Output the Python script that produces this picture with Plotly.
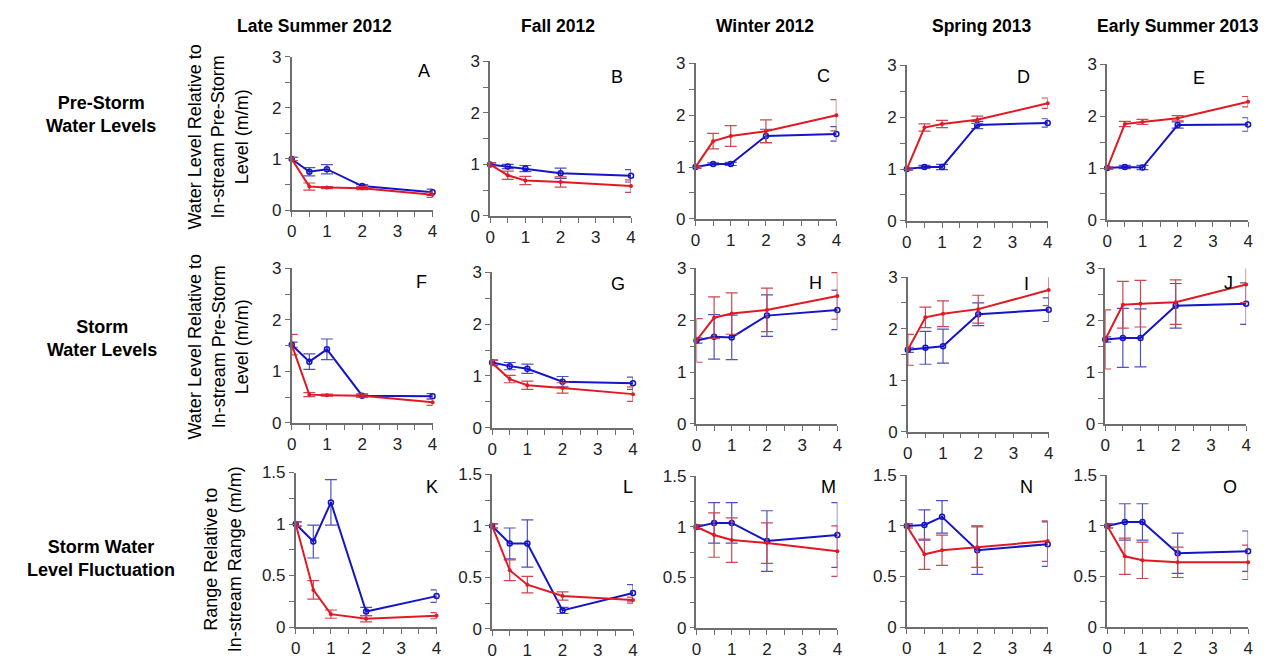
import plotly.graph_objects as go

W, H = 1267, 672

# ---------------- data ----------------
hours = [0, 0.5, 1, 2, 4]
x_tick_vals = [0, 1, 2, 3, 4]
col_titles = ["Late Summer 2012", "Fall 2012", "Winter 2012", "Spring 2013", "Early Summer 2013"]
row_labels = ["Pre-Storm<br>Water Levels", "Storm<br>Water Levels", "Storm Water<br>Level Fluctuation"]
y_titles = ["Water Level Relative to<br>In-stream Pre-Storm<br>Level (m/m)",
            "Water Level Relative to<br>In-stream Pre-Storm<br>Level (m/m)",
            "Range Relative to<br>In-stream Range (m/m)"]
letters = ["A", "B", "C", "D", "E", "F", "G", "H", "I", "J", "K", "L", "M", "N", "O"]

A_blue = [1.0, 0.75, 0.80, 0.47, 0.35]; A_blue_err = [0.03, 0.08, 0.09, 0.03, 0.06]
A_red = [1.0, 0.46, 0.44, 0.43, 0.30];  A_red_err = [0.03, 0.07, 0.02, 0.03, 0.05]
B_blue = [1.0, 0.96, 0.92, 0.83, 0.78]; B_blue_err = [0.03, 0.04, 0.06, 0.10, 0.12]
B_red = [1.0, 0.79, 0.69, 0.66, 0.58];  B_red_err = [0.03, 0.08, 0.08, 0.10, 0.12]
C_blue = [1.0, 1.06, 1.06, 1.60, 1.64]; C_blue_err = [0.02, 0.02, 0.03, 0.13, 0.14]
C_red = [1.0, 1.50, 1.60, 1.69, 2.00];  C_red_err = [0.02, 0.15, 0.20, 0.22, 0.30]
D_blue = [1.0, 1.04, 1.04, 1.85, 1.89]; D_blue_err = [0.02, 0.03, 0.05, 0.07, 0.08]
D_red = [1.0, 1.80, 1.87, 1.95, 2.27];  D_red_err = [0.02, 0.07, 0.07, 0.07, 0.10]
E_blue = [1.0, 1.02, 1.01, 1.83, 1.84]; E_blue_err = [0.02, 0.03, 0.04, 0.06, 0.13]
E_red = [1.0, 1.85, 1.89, 1.96, 2.28];  E_red_err = [0.02, 0.05, 0.05, 0.05, 0.10]

F_blue = [1.52, 1.19, 1.43, 0.53, 0.52]; F_blue_err = [0.05, 0.15, 0.20, 0.03, 0.05]
F_red = [1.52, 0.55, 0.54, 0.53, 0.40];  F_red_err = [0.20, 0.04, 0.02, 0.03, 0.06]
G_blue = [1.26, 1.19, 1.14, 0.89, 0.86]; G_blue_err = [0.05, 0.07, 0.09, 0.10, 0.12]
G_red = [1.25, 0.94, 0.82, 0.77, 0.65];  G_red_err = [0.05, 0.07, 0.08, 0.10, 0.14]
H_blue = [1.61, 1.68, 1.67, 2.09, 2.20]; H_blue_err = [0.05, 0.43, 0.43, 0.40, 0.38]
H_red = [1.61, 2.05, 2.13, 2.20, 2.47];  H_red_err = [0.42, 0.40, 0.40, 0.42, 0.45]
I_blue = [1.59, 1.63, 1.66, 2.28, 2.37]; I_blue_err = [0.05, 0.32, 0.33, 0.22, 0.23]
I_red = [1.59, 2.22, 2.29, 2.38, 2.75];  I_red_err = [0.30, 0.20, 0.25, 0.27, 0.30]
J_blue = [1.63, 1.66, 1.66, 2.28, 2.32]; J_blue_err = [0.05, 0.57, 0.56, 0.43, 0.40]
J_red = [1.63, 2.30, 2.32, 2.35, 2.69];  J_red_err = [0.57, 0.45, 0.45, 0.43, 0.35]

K_blue = [1.0, 0.83, 1.21, 0.15, 0.30]; K_blue_err = [0.02, 0.16, 0.22, 0.04, 0.06]
K_red = [1.0, 0.36, 0.125, 0.08, 0.11]; K_red_err = [0.02, 0.09, 0.04, 0.03, 0.03]
L_blue = [1.0, 0.83, 0.83, 0.18, 0.35]; L_blue_err = [0.02, 0.15, 0.23, 0.03, 0.08]
L_red = [1.0, 0.57, 0.43, 0.32, 0.28];  L_red_err = [0.02, 0.10, 0.08, 0.04, 0.03]
M_blue = [1.0, 1.04, 1.04, 0.86, 0.92]; M_blue_err = [0.02, 0.20, 0.20, 0.30, 0.32]
M_red = [1.0, 0.92, 0.87, 0.84, 0.76];  M_red_err = [0.02, 0.22, 0.22, 0.20, 0.25]
N_blue = [1.0, 1.01, 1.09, 0.76, 0.82]; N_blue_err = [0.02, 0.15, 0.16, 0.24, 0.22]
N_red = [1.0, 0.72, 0.76, 0.79, 0.85];  N_red_err = [0.02, 0.15, 0.15, 0.20, 0.20]
O_blue = [1.0, 1.04, 1.04, 0.73, 0.75]; O_blue_err = [0.02, 0.18, 0.18, 0.20, 0.20]
O_red = [1.0, 0.70, 0.66, 0.64, 0.64];  O_red_err = [0.02, 0.18, 0.18, 0.15, 0.17]

blue_means = [A_blue, B_blue, C_blue, D_blue, E_blue, F_blue, G_blue, H_blue, I_blue, J_blue,
              K_blue, L_blue, M_blue, N_blue, O_blue]
blue_errs = [A_blue_err, B_blue_err, C_blue_err, D_blue_err, E_blue_err, F_blue_err, G_blue_err,
             H_blue_err, I_blue_err, J_blue_err, K_blue_err, L_blue_err, M_blue_err, N_blue_err, O_blue_err]
red_means = [A_red, B_red, C_red, D_red, E_red, F_red, G_red, H_red, I_red, J_red,
             K_red, L_red, M_red, N_red, O_red]
red_errs = [A_red_err, B_red_err, C_red_err, D_red_err, E_red_err, F_red_err, G_red_err,
            H_red_err, I_red_err, J_red_err, K_red_err, L_red_err, M_red_err, N_red_err, O_red_err]

y_ranges = [[0, 3], [0, 3], [0, 1.5]]
y_dticks = [1, 1, 0.5]
y_minor = [0.5, 0.5, 0.25]

# ---------------- layout (pixel geometry) ----------------
# (x0, top, bottom) of each plot area in pixels
geom = [
    [(289, 49, 207), (489, 54, 213), (696, 56, 216), (909, 58, 218), (1111, 57, 217)],
    [(289, 267, 426), (491, 271, 431), (697, 267, 427), (910, 276, 435), (1109, 267, 427)],
    [(293, 477, 636), (491, 479, 638), (697, 481, 637), (909, 480, 636), (1111, 480, 636)],
]
PW = 142
letter_pos = [
    [(422, 64), (617, 70), (825, 69), (1027, 70), (1204, 71)],
    [(420, 281), (618, 283), (817, 282), (1030, 283), (1233, 282)],
    [(430, 492), (628, 492), (830, 492), (1030, 492), (1235, 492)],
]
title_x = [312, 557, 766, 984, 1182]

BLUE = "rgb(20,20,200)"
RED = "rgb(225,25,35)"
BLUE_ERR = "rgb(80,80,190)"
RED_ERR = "rgb(205,70,80)"
AXC = "rgb(110,110,110)"
FONT = "Arial, Liberation Sans, sans-serif"
TICKFONT = dict(size=17, color="rgb(35,35,35)")

fig = go.Figure()
layout = dict(width=W, height=H, margin=dict(l=0, r=0, t=0, b=0),
              paper_bgcolor="white", plot_bgcolor="white", showlegend=False,
              font=dict(family=FONT, color="rgb(50,50,50)", size=17))
annotations = []

for r in range(3):
    for c in range(5):
        k = r * 5 + c
        idx = "" if k == 0 else str(k + 1)
        x0, top, bot = geom[r][c]
        xd = [x0 / W, (x0 + PW) / W]
        yd = [1 - bot / H, 1 - top / H]
        layout["xaxis" + idx] = dict(
            domain=xd, range=[0, 4], anchor="y" + idx, showgrid=False, zeroline=False,
            showline=True, linecolor=AXC, linewidth=1.5, ticks="outside", ticklen=5,
            tickcolor=AXC, tickwidth=1.3, tickvals=x_tick_vals, fixedrange=True,
            minor=dict(dtick=0.5, tick0=0, ticks="outside", ticklen=5, tickcolor=AXC, tickwidth=1.3),
            tickfont=TICKFONT)
        layout["yaxis" + idx] = dict(
            domain=yd, range=y_ranges[r], anchor="x" + idx, showgrid=False, zeroline=False,
            showline=True, linecolor=AXC, linewidth=1.5, ticks="outside", ticklen=5,
            tickcolor=AXC, tickwidth=1.3, dtick=y_dticks[r], tick0=0, fixedrange=True,
            minor=dict(dtick=y_minor[r], tick0=0, ticks="outside", ticklen=5, tickcolor=AXC, tickwidth=1.3),
            tickfont=TICKFONT)
        fig.add_trace(go.Scatter(
            x=hours, y=blue_means[k], mode="lines+markers", xaxis="x" + idx, yaxis="y" + idx,
            line=dict(color=BLUE, width=2),
            marker=dict(symbol="circle-open", size=5, color=BLUE, line=dict(width=1.5, color=BLUE)),
            error_y=dict(type="data", array=blue_errs[k], visible=True, color=BLUE_ERR,
                         thickness=1.2, width=6),
            cliponaxis=False))
        fig.add_trace(go.Scatter(
            x=hours, y=red_means[k], mode="lines+markers", xaxis="x" + idx, yaxis="y" + idx,
            line=dict(color=RED, width=2),
            marker=dict(symbol="circle", size=4, color=RED),
            error_y=dict(type="data", array=red_errs[k], visible=True, color=RED_ERR,
                         thickness=1.2, width=6),
            cliponaxis=False))
        lx, ly = letter_pos[r][c]
        annotations.append(dict(text=letters[k], x=lx / W, y=1 - ly / H, xref="paper", yref="paper",
                                showarrow=False, xanchor="center", yanchor="middle",
                                font=dict(size=18, color="black", family=FONT)))

for c in range(5):
    annotations.append(dict(text="<b>" + col_titles[c] + "</b>", x=title_x[c] / W, y=1 - 18 / H,
                            xref="paper", yref="paper", showarrow=False, xanchor="center",
                            yanchor="middle", font=dict(size=17.5, color="black", family=FONT)))

row_label_pos = [(97, 109), (98, 339), (97, 565)]
ytitle_pos = [(215, 132), (215, 348), (220, 566)]
for r in range(3):
    px, py = row_label_pos[r]
    annotations.append(dict(text="<b>" + row_labels[r] + "</b>", x=px / W, y=1 - py / H,
                            xref="paper", yref="paper", showarrow=False, xanchor="center",
                            yanchor="middle", align="center",
                            font=dict(size=18, color="black", family=FONT)))
    tx, ty = ytitle_pos[r]
    annotations.append(dict(text=y_titles[r], x=tx / W, y=1 - ty / H, xref="paper", yref="paper",
                            showarrow=False, textangle=-90, xanchor="center", yanchor="middle",
                            align="center", font=dict(size=18, color="black", family=FONT)))

layout["annotations"] = annotations
fig.update_layout(**layout)
fig.write_html("out.html")
